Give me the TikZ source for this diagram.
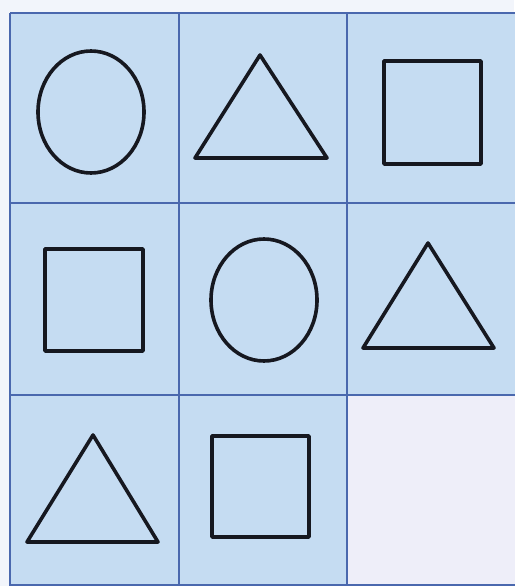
\documentclass[tikz,border=0pt]{standalone}
\definecolor{bgc}{HTML}{F2F5FB}
\definecolor{cellc}{HTML}{C5DCF2}
\definecolor{emptyc}{HTML}{EEEEF9}
\definecolor{gridc}{HTML}{4A68AE}
\definecolor{inkc}{HTML}{161820}
\tikzset{
  gridline/.style={draw=gridc, line width=2pt},
  figline/.style={draw=inkc, line width=3.6pt, line join=round},
}
\begin{document}
\begin{tikzpicture}[x=1pt,y=-1pt]
\useasboundingbox (0,0) rectangle (514,586);
\fill[bgc] (0,0) rectangle (514,586);
\fill[cellc] (10,13) rectangle (518,588);
\fill[emptyc] (347,395) rectangle (518,588);
% grid
\draw[gridline] (10,13) -- (518,13);
\draw[gridline] (10,203) -- (518,203);
\draw[gridline] (10,395) -- (518,395);
\draw[gridline] (10,585) -- (518,585);
\draw[gridline] (10,13) -- (10,588);
\draw[gridline] (179,13) -- (179,588);
\draw[gridline] (347,13) -- (347,588);
% row 1
\draw[figline] (91,112) ellipse [x radius=53, y radius=61];
\draw[figline] (260,55) -- (327,158) -- (195,158) -- cycle;
\draw[figline] (384,61) rectangle (481,164);
% row 2
\draw[figline] (45,249) rectangle (143,351);
\draw[figline] (264,300) ellipse [x radius=53, y radius=61];
\draw[figline] (428,243) -- (494,348) -- (363,348) -- cycle;
% row 3
\draw[figline] (93,435) -- (158,542) -- (27,542) -- cycle;
\draw[figline] (212,436) rectangle (309,537);
\end{tikzpicture}
\end{document}
